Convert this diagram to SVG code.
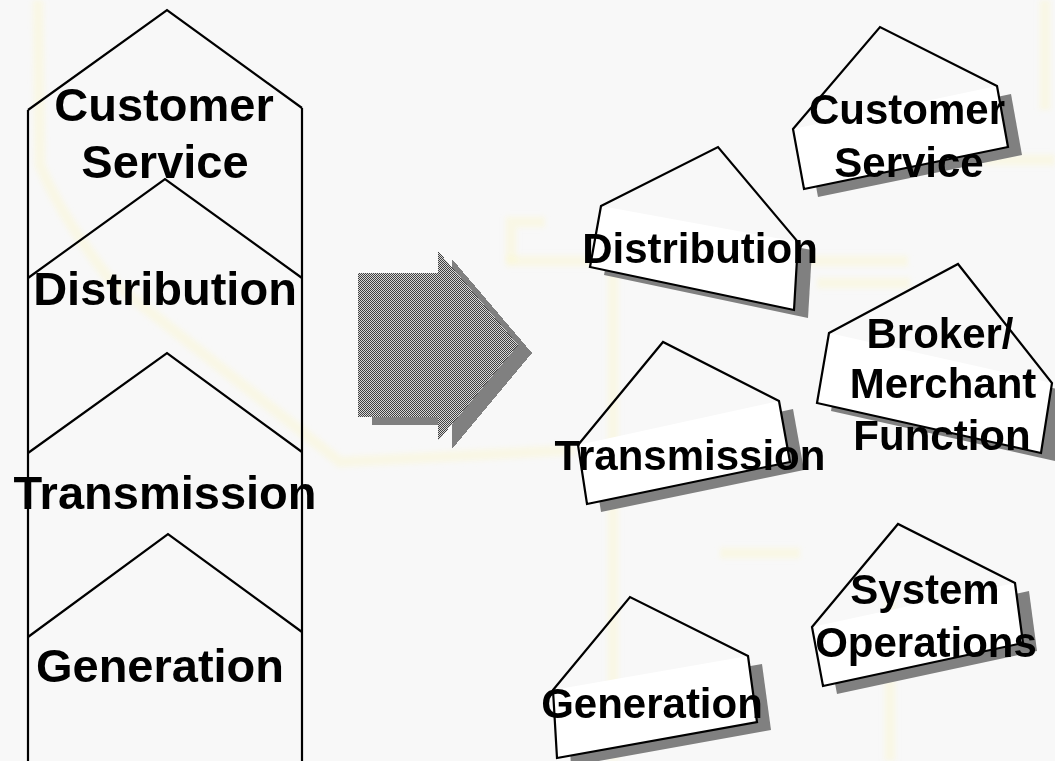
<svg xmlns="http://www.w3.org/2000/svg" width="1055" height="761" viewBox="0 0 1055 761">
  <style>
    .edge { fill: none; stroke: #000; stroke-width: 2.2; stroke-linejoin: miter; }
    .body { fill: #fff; stroke: none; }
    .shade { fill: #808080; stroke: none; }
    .big { font-family: "Liberation Sans", Arial, sans-serif; font-weight: bold; font-size: 47px; text-anchor: middle; fill: #000; }
    .lbl { font-family: "Liberation Sans", Arial, sans-serif; font-weight: bold; font-size: 42px; text-anchor: middle; fill: #000; }
    .wash { fill: none; stroke: #fbf8d4; stroke-width: 11; opacity: 0.5; }
  </style>
  <defs>
    <pattern id="dither" width="2" height="2" patternUnits="userSpaceOnUse">
      <rect width="2" height="2" fill="#d6d6d6" shape-rendering="crispEdges"/>
      <rect width="1" height="1" fill="#404040" shape-rendering="crispEdges"/>
      <rect x="1" y="1" width="1" height="1" fill="#404040" shape-rendering="crispEdges"/>
    </pattern>
    <filter id="soft" x="-5%" y="-5%" width="110%" height="110%">
      <feGaussianBlur stdDeviation="2.5"/>
    </filter>
  </defs>

  <!-- page -->
  <rect width="1055" height="761" fill="#f8f8f8"/>

  <!-- faint backdrop tracery -->
  <g id="backdrop" filter="url(#soft)">
    <path class="wash" d="M38,0 L40,165 Q60,215 110,280 L340,462 L575,450"/>
    <path class="wash" d="M511,263 V222 H545"/>
    <path class="wash" d="M506,261 H908"/>
    <path class="wash" d="M613,262 V761"/>
    <path class="wash" d="M720,553 H800"/>
    <path class="wash" d="M890,600 V761"/>
    <path class="wash" d="M817,283 H910"/>
    <path class="wash" d="M984,160 H1055"/>
    <path class="wash" d="M1045,0 V110"/>
  </g>

  <!-- left: stacked value chain -->
  <g id="stack-frame">
    <path class="edge" d="M28,110 V761 M302,108 V761"/>
  </g>
  <g id="stack-customer-service">
    <path class="edge" d="M28,110 L167,10 L302,108"/>
    <text class="big" x="164" y="121">Customer</text>
    <text class="big" x="165" y="178">Service</text>
  </g>
  <g id="stack-distribution">
    <path class="edge" d="M28,278 L165,179 L302,278"/>
    <text class="big" x="165" y="305">Distribution</text>
  </g>
  <g id="stack-transmission">
    <path class="edge" d="M28,453 L167,353 L302,452"/>
    <text class="big" x="165" y="509">Transmission</text>
  </g>
  <g id="stack-generation">
    <path class="edge" d="M28,637 L168,534 L302,632"/>
    <text class="big" x="160" y="682">Generation</text>
  </g>

  <!-- middle: transition arrow -->
  <g id="arrow" shape-rendering="crispEdges">
    <polygon class="shade" transform="translate(14,8)" points="358,273 438,273 438,251 518,345 438,441 438,417 358,417"/>
    <polygon fill="url(#dither)" points="358,273 438,273 438,251 518,345 438,441 438,417 358,417"/>
  </g>

  <!-- right: unbundled functions -->
  <g id="customer-service">
    <polygon class="shade" transform="translate(14,8)" points="793,129 997,86 1008,147 804,189"/>
    <polygon class="body" points="793,129 997,86 1008,147 804,189"/>
    <polygon class="edge" points="793,129 880,27 997,86 1008,147 804,189"/>
    <text class="lbl" x="907" y="124">Customer</text>
    <text class="lbl" x="909" y="177">Service</text>
  </g>
  <g id="distribution">
    <polygon class="shade" transform="translate(14,8)" points="601,206 798,242 794,310 590,267"/>
    <polygon class="body" points="601,206 798,242 794,310 590,267"/>
    <polygon class="edge" points="601,206 718,147 798,242 794,310 590,267"/>
    <text class="lbl" x="700" y="263">Distribution</text>
  </g>
  <g id="transmission">
    <polygon class="shade" transform="translate(14,8)" points="578,445 779,401 790,462 587,504"/>
    <polygon class="body" points="578,445 779,401 790,462 587,504"/>
    <polygon class="edge" points="578,445 663,342 779,401 790,462 587,504"/>
    <text class="lbl" x="690" y="470">Transmission</text>
  </g>
  <g id="broker-merchant">
    <polygon class="shade" transform="translate(14,8)" points="829,333 1052,383 1041,453 817,403"/>
    <polygon class="body" points="829,333 1052,383 1041,453 817,403"/>
    <polygon class="edge" points="829,333 958,264 1052,383 1041,453 817,403"/>
    <text class="lbl" x="940" y="348">Broker/</text>
    <text class="lbl" x="943" y="398">Merchant</text>
    <text class="lbl" x="942" y="450">Function</text>
  </g>
  <g id="generation">
    <polygon class="shade" transform="translate(14,8)" points="553,690 748,656 757,722 557,758"/>
    <polygon class="body" points="553,690 748,656 757,722 557,758"/>
    <polygon class="edge" points="553,690 630,597 748,656 757,722 557,758"/>
    <text class="lbl" x="652" y="718">Generation</text>
  </g>
  <g id="system-operations">
    <polygon class="shade" transform="translate(14,8)" points="812,627 1015,583 1023,643 823,686"/>
    <polygon class="body" points="812,627 1015,583 1023,643 823,686"/>
    <polygon class="edge" points="812,627 898,524 1015,583 1023,643 823,686"/>
    <text class="lbl" x="925" y="604">System</text>
    <text class="lbl" x="926" y="657">Operations</text>
  </g>

  <!-- no connectors between the function blocks -->
  <g id="connectors"/>
</svg>
